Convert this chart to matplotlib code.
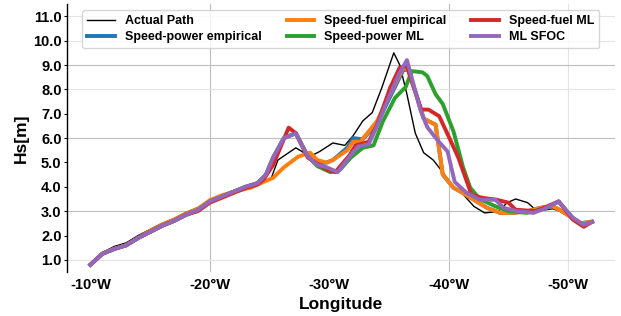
import matplotlib
matplotlib.use('Agg')
import matplotlib.pyplot as plt
from matplotlib.ticker import FixedLocator, FuncFormatter

plt.rcParams['font.family'] = ['Liberation Sans', 'DejaVu Sans']
plt.rcParams['font.weight'] = 'bold'

# longitude in degrees west (plotted as -lon°W), wave height Hs in metres
lon_actual = [10, 11, 12, 13, 14, 15, 16, 17, 18, 19, 20, 21, 22, 23, 24, 25.1, 25.7, 27.2, 28.4, 29.2,
              30.3, 31.3, 32.0, 32.8, 33.6, 34.4, 35.4, 35.9, 36.5, 37.2, 37.9, 38.7, 39.5, 40.4,
              41.0, 42.1, 43.0, 44.1, 44.9, 45.6, 46.6, 47.4, 48.7, 49.3, 50.4, 51.3, 52.0]
hs_actual = [0.85, 1.3, 1.55, 1.7, 2.0, 2.25, 2.5, 2.7, 2.95, 3.15, 3.45, 3.65, 3.85, 4.0, 4.2, 4.3, 5.1,
             5.6, 5.25, 5.45, 5.8, 5.7, 6.1, 6.7, 7.05, 8.07, 9.5, 9.0, 7.8, 6.2, 5.4, 5.1, 4.6, 4.0,
             3.8, 3.2, 2.93, 2.98, 3.35, 3.5, 3.35, 3.0, 3.1, 3.0, 2.7, 2.45, 2.56]

lon_sp_emp = [10, 11, 12, 13, 14, 15, 16, 17, 18, 19, 20, 21, 22, 23, 24, 24.7, 25.3, 26.2, 27.2, 28.2,
              29.0, 29.8, 30.3, 31.5, 32.0, 32.8, 34.0, 35.1, 36.2, 36.6, 37.2, 37.9, 38.9, 39.5,
              40.4, 41.0, 42.1, 43.2, 44.3, 45.4, 46.6, 47.7, 48.7, 49.3, 50.2, 51.0, 51.8]
hs_sp_emp = [0.8, 1.25, 1.45, 1.6, 1.9, 2.15, 2.4, 2.6, 2.85, 3.05, 3.4, 3.6, 3.8, 4.0, 4.15, 4.5, 5.2,
             6.0, 6.2, 5.25, 4.95, 5.0, 5.1, 5.6, 6.0, 5.95, 6.6, 7.7, 8.8, 8.8, 7.9, 6.8, 6.55, 4.5,
             3.96, 3.8, 3.47, 3.14, 2.93, 2.93, 3.0, 3.14, 3.2, 3.05, 2.77, 2.5, 2.56]

lon_sf_emp = [10, 11, 12, 13, 14, 15, 16, 17, 18, 19, 20, 21, 22, 23.4, 24.5, 25.3, 26.2, 27.4, 28.4,
              29.0, 29.8, 30.3, 31.5, 32.0, 32.6, 34.0, 35.1, 36.2, 36.6, 37.2, 37.9, 38.9, 39.5,
              40.4, 41.0, 42.1, 43.2, 44.3, 45.4, 46.6, 47.7, 48.7, 49.3, 50.2, 51.0, 51.8]
hs_sf_emp = [0.8, 1.25, 1.45, 1.6, 1.9, 2.2, 2.45, 2.65, 2.9, 3.1, 3.45, 3.65, 3.8, 3.96, 4.2, 4.37,
             4.8, 5.24, 5.4, 5.1, 4.99, 5.1, 5.5, 5.85, 5.85, 6.7, 7.8, 8.9, 8.8, 7.9, 6.8, 6.55, 4.5,
             3.96, 3.8, 3.47, 3.14, 2.93, 2.93, 3.0, 3.14, 3.2, 3.05, 2.77, 2.5, 2.56]

lon_sp_ml = [10, 11, 12, 13, 14, 15, 16, 17, 18, 19, 20, 21, 22, 23, 24, 24.7, 25.3, 26.2, 27.2, 28.2,
             29.0, 30.1, 30.9, 31.8, 32.8, 33.7, 34.5, 35.5, 36.4, 36.9, 37.8, 38.2, 38.9, 39.5,
             40.4, 41.2, 41.8, 42.6, 43.9, 45.0, 46.5, 48.2, 49.2, 50.4, 51.3, 52.0]
hs_sp_ml = [0.8, 1.25, 1.45, 1.6, 1.9, 2.15, 2.4, 2.6, 2.85, 3.05, 3.4, 3.6, 3.8, 4.0, 4.15, 4.5, 5.2,
            6.0, 6.2, 5.25, 4.85, 4.6, 4.7, 5.2, 5.6, 5.7, 6.7, 7.65, 8.1, 8.75, 8.7, 8.55, 7.8, 7.4,
            6.27, 4.8, 3.96, 3.5, 3.2, 3.0, 2.93, 3.14, 3.4, 2.7, 2.44, 2.56]

lon_sf_ml = [10, 11, 12, 13, 14, 15, 16, 17, 18, 19, 20, 21, 22, 23, 24, 24.5, 25.3, 26.6, 27.2, 28.2,
             29.8, 30.5, 31.7, 32.2, 33.3, 34.0, 35.1, 35.9, 36.5, 37.0, 37.7, 38.3, 39.2, 40.0,
             40.8, 41.6, 41.9, 42.8, 44.0, 45.0, 45.6, 47.3, 49.2, 50.4, 51.3, 52.0]
hs_sf_ml = [0.8, 1.25, 1.45, 1.6, 1.9, 2.15, 2.4, 2.6, 2.85, 3.0, 3.35, 3.55, 3.75, 3.95, 4.1, 4.3, 4.9,
            6.43, 6.2, 5.2, 4.7, 4.6, 5.3, 5.7, 5.85, 6.55, 8.07, 8.9, 8.95, 8.2, 7.17, 7.17, 6.9,
            6.06, 5.2, 4.1, 3.67, 3.55, 3.47, 3.35, 3.06, 3.0, 3.4, 2.65, 2.36, 2.56]

lon_sfoc = [10, 11, 12, 13, 14, 15, 16, 17, 18, 19, 20, 21, 22, 23, 24, 24.7, 25.3, 26.2, 27.2, 28.2,
            29.0, 29.8, 30.7, 31.8, 32.4, 33.3, 34.0, 35.1, 35.8, 36.5, 37.0, 37.6, 38.2, 39.0,
            39.9, 40.5, 41.5, 42.6, 43.9, 44.6, 45.7, 47.1, 48.2, 49.2, 49.9, 50.4, 51.3, 52.0]
hs_sfoc = [0.8, 1.25, 1.45, 1.6, 1.9, 2.15, 2.4, 2.6, 2.85, 3.05, 3.4, 3.6, 3.8, 4.0, 4.15, 4.5, 5.2,
           6.0, 6.2, 5.25, 4.9, 4.8, 4.6, 5.3, 5.65, 5.75, 6.5, 7.8, 8.6, 9.2, 8.3, 7.2, 6.45, 5.95,
           5.45, 4.2, 3.75, 3.47, 3.47, 3.14, 3.0, 2.93, 3.14, 3.4, 3.0, 2.73, 2.44, 2.56]

x_ticks = [10, 20, 30, 40, 50]
y_ticks = [1, 2, 3, 4, 5, 6, 7, 8, 9, 10, 11]

fig = plt.figure(figsize=(6.21, 3.16), dpi=100)
ax = fig.add_axes([0.108, 0.139, 0.882, 0.848])

ax.plot(lon_actual, hs_actual, color='black', lw=1.0, label='Actual Path')
ax.plot(lon_sp_emp, hs_sp_emp, color='tab:blue', lw=2.8, label='Speed-power empirical')
ax.plot(lon_sf_emp, hs_sf_emp, color='tab:orange', lw=2.8, label='Speed-fuel empirical')
ax.plot(lon_sp_ml, hs_sp_ml, color='tab:green', lw=2.8, label='Speed-power ML')
ax.plot(lon_sf_ml, hs_sf_ml, color='tab:red', lw=2.8, label='Speed-fuel ML')
ax.plot(lon_sfoc, hs_sfoc, color='tab:purple', lw=2.8, label='ML SFOC')

ax.set_xlim(8.05, 53.9)
ax.set_ylim(0.5, 11.5)
ax.xaxis.set_major_locator(FixedLocator(x_ticks))
ax.yaxis.set_major_locator(FixedLocator(y_ticks))
ax.xaxis.set_major_formatter(FuncFormatter(lambda v, p: '-%d°W' % v))
ax.yaxis.set_major_formatter(FuncFormatter(lambda v, p: '%.1f' % v))
ax.tick_params(axis='x', length=0, labelsize=10.5, pad=4)
ax.tick_params(axis='y', length=2.5, width=0.8, labelsize=10.5, pad=1.5)

# the reference grid is patchy: some lines strong, some faint, some missing
ax.grid(True, lw=0.8, zorder=0)
strong_y, faint_y = {3, 6, 9}, {1, 8, 10, 11}
for val, gl in zip(y_ticks, ax.get_ygridlines()):
    if val in strong_y:
        gl.set_color('#bdbdbd')
    elif val in faint_y:
        gl.set_color('#e4e4e4')
    else:
        gl.set_visible(False)
strong_x, faint_x = {20, 40}, {50}
for val, gl in zip(x_ticks, ax.get_xgridlines()):
    if val in strong_x:
        gl.set_color('#bdbdbd')
    elif val in faint_x:
        gl.set_color('#e4e4e4')
    else:
        gl.set_visible(False)
ax.set_axisbelow(True)

for s in ['top', 'right', 'bottom']:
    ax.spines[s].set_visible(False)
ax.spines['left'].set_color('black')
ax.spines['left'].set_linewidth(1.0)

ax.set_xlabel('Longitude', fontsize=12.5, fontweight='bold', labelpad=4)
ax.set_ylabel('Hs[m]', fontsize=12.5, fontweight='bold', labelpad=3)

ax.legend(loc='upper center', ncol=3, prop={'weight': 'bold', 'size': 9},
          handlelength=2.2, columnspacing=2.0, borderpad=0.4, labelspacing=0.3)

fig.savefig('out.png', dpi=100)
